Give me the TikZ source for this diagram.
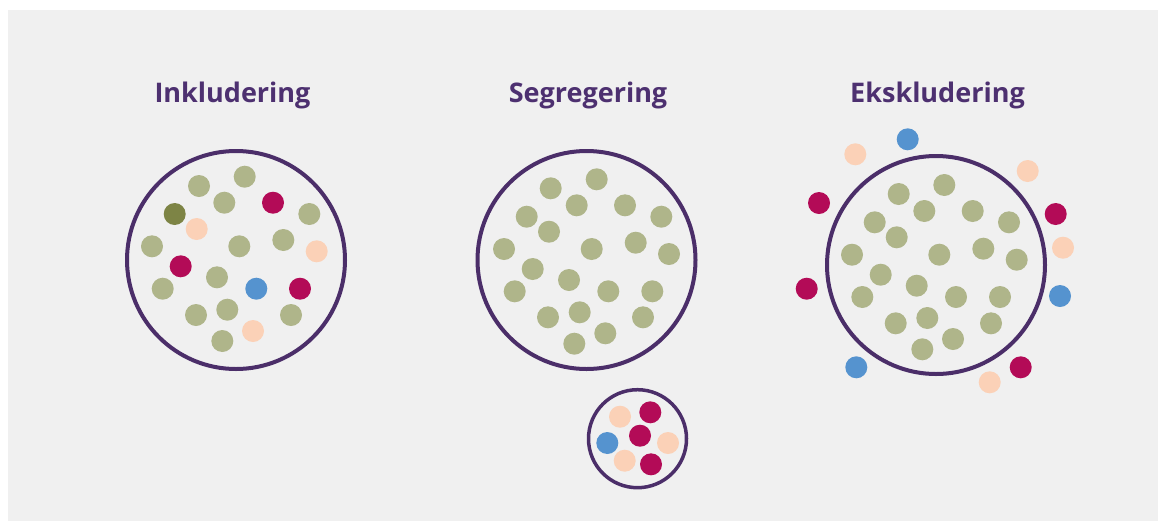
\documentclass[tikz,border=0pt]{standalone}
\usepackage{fontspec}
\setmainfont{Open Sans}
\definecolor{bgc}{HTML}{F0F0F0}
\definecolor{ring}{HTML}{4B2E69}
\definecolor{titlec}{HTML}{4D3070}
\definecolor{grn}{HTML}{AFB58A}
\definecolor{olv}{HTML}{7D8445}
\definecolor{crm}{HTML}{B30B57}
\definecolor{pch}{HTML}{FBD1B7}
\definecolor{blu}{HTML}{5593CF}
\tikzset{
  dot/.style={circle, fill=#1, inner sep=0pt, minimum size=22pt, draw=none},
  ringbig/.style={circle, draw=ring, line width=4pt, minimum size=218pt, inner sep=0pt},
  ringsmall/.style={circle, draw=ring, line width=3.5pt, minimum size=98pt, inner sep=0pt},
  ttl/.style={anchor=base, text=titlec, font=\fontsize{27}{32}\selectfont\bfseries, inner sep=0pt}
}
\begin{document}
\begin{tikzpicture}[x=1pt,y=-1pt]
\useasboundingbox (0,0) rectangle (1166,523);
\fill[bgc] (8,10) rectangle (1158,521);
% titles
\node[ttl] (t1) at (232.5,102) {Inkludering};
\node[ttl] (t2) at (588,102) {Segregering};
\node[ttl] (t3) at (937.5,102) {Ekskludering};
% rings
\node[ringbig] (c1) at (236,260) {};
\node[ringbig] (c2) at (586.5,260) {};
\node[ringsmall] (c3) at (637.5,438.7) {};
\node[ringbig] (c4) at (936,265) {};
% inclusion dots
\foreach \x/\y/\c [count=\i] in {199/186/grn,244.7/176.7/grn,224.3/202.7/grn,273/202.7/crm,174.7/214/olv,309.3/214/grn,196.7/229/pch,152/246.3/grn,239.3/246.3/grn,283.3/240/grn,316.7/251.3/pch,180.7/266.3/crm,217/277.3/grn,162.7/288.7/grn,256.3/288.7/blu,300/288.7/crm,196/315/grn,227.3/309.7/grn,291/315/grn,253/331/pch,222.3/341/grn}
  \node[dot=\c] (a\i) at (\x,\y) {};
% segregation dots
\foreach \x/\y [count=\i] in {550.7/188.3,596.7/179.3,576.7/205.3,625/205.3,526.7/216.7,661.3/216.7,549/231.7,504/249,591.7/249,635.7/242.7,669/254,532.7/269,569/280,514.7/291.3,608.3/291.3,652.3/291.3,548/317.3,579.7/312.3,643/317.3,605.3/333.3,574.3/343.7}
  \node[dot=grn] (b\i) at (\x,\y) {};
\foreach \x/\y/\c [count=\i] in {620/416.7/pch,650.3/412.3/crm,640/435.7/crm,607.3/443/blu,668/443/pch,624.7/460.7/pch,651/464.3/crm}
  \node[dot=\c] (s\i) at (\x,\y) {};
% exclusion dots
\foreach \x/\y [count=\i] in {944.3/185,898.7/194,924.3/211,972.7/211,874.7/222.3,1009/222.3,896.7/237.3,852/254.7,939.3/254.7,983.3/248.7,1016.7/259.7,880.7/274.7,916.7/285.7,862.3/297,956/297,1000/297,895.7/323.3,927.3/318,991/323.3,953/339,922.3/349.3}
  \node[dot=grn] (e\i) at (\x,\y) {};
\foreach \x/\y/\c [count=\i] in {907.7/139.3/blu,855.3/154.3/pch,1027.7/171/pch,819/203/crm,1055.7/214/crm,1063/247.7/pch,806.7/288.7/crm,1060/296/blu,856.3/367.3/blu,1020.7/367.3/crm,989.7/382.3/pch}
  \node[dot=\c] (o\i) at (\x,\y) {};
\end{tikzpicture}
\end{document}
